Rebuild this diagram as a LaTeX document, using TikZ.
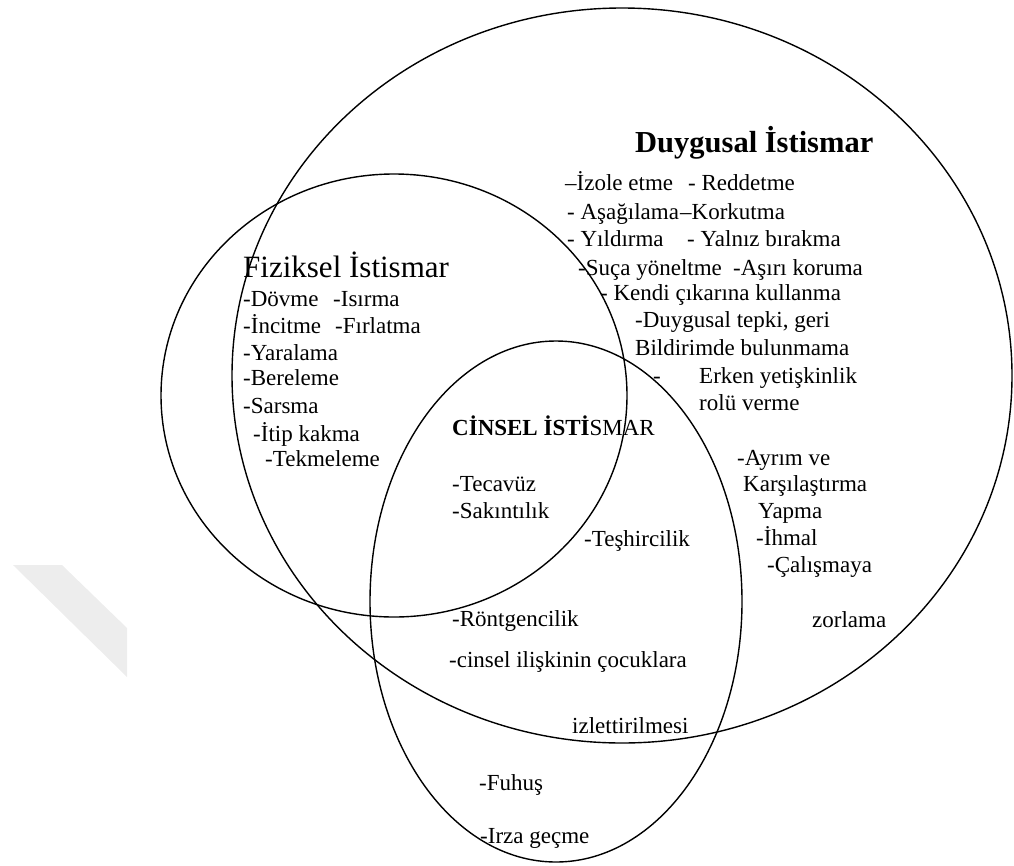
\documentclass[tikz,border=0pt]{standalone}
\usepackage{fontspec}
\setmainfont{Liberation Serif}

\tikzset{
  item/.style={anchor=base west, inner sep=0pt, font=\fontsize{23}{27}\selectfont},
  heading/.style={anchor=base west, inner sep=0pt, font=\fontsize{31}{35}\selectfont},
  venn/.style={line width=1.4pt}
}

\begin{document}
\begin{tikzpicture}[x=1pt, y=-1pt]
\useasboundingbox (0,0) rectangle (1014,865);
\fill[black!7] (13,565) -- (62,565) -- (127,628) -- (127,677) -- cycle;

\draw[venn] (622,375.5) ellipse [x radius=390pt, y radius=367.5pt];
\draw[venn] (394,395.5) ellipse [x radius=233pt, y radius=221.5pt];
\draw[venn] (556,601.5) ellipse [x radius=186pt, y radius=260.5pt];

\node[heading, font=\fontsize{30.5}{35}\selectfont\bfseries] (duy) at (635,152) {Duygusal İstismar};
\node[item] (d1) at (565,190) {–İzole etme};
\node[item] (d1b) at (688,190) {- Reddetme};
\node[item] (d2) at (567,219) {- Aşağılama};
\node[item] (d2b) at (680,219) {–Korkutma};
\node[item] (d3) at (567,246) {- Yıldırma};
\node[item] (d3b) at (687,246) {- Yalnız bırakma};
\node[item] (d4) at (578,275) {-Suça yöneltme};
\node[item] (d4b) at (733,275) {-Aşırı koruma};
\node[item] (d5) at (600,300) {- Kendi çıkarına kullanma};
\node[item] (d6) at (635,327) {-Duygusal tepki, geri};
\node[item] (d7) at (635,355) {Bildirimde bulunmama};
\node[item] (d8) at (653,383) {-};
\node[item] (d8b) at (699,383) {Erken yetişkinlik};
\node[item] (d9) at (699,410) {rolü verme};
\node[item] (d10) at (737,465) {-Ayrım ve};
\node[item] (d11) at (743,491) {Karşılaştırma};
\node[item] (d12) at (758,518) {Yapma};
\node[item] (d13) at (756,545) {-İhmal};
\node[item] (d14) at (767,572) {-Çalışmaya};
\node[item] (d15) at (812,627) {zorlama};

\node[heading] (fiz) at (243,277) {Fiziksel İstismar};
\node[item] (f1) at (243,306) {-Dövme};
\node[item] (f1b) at (333,306) {-Isırma};
\node[item] (f2) at (243,333) {-İncitme};
\node[item] (f2b) at (335,333) {-Fırlatma};
\node[item] (f3) at (243,360) {-Yaralama};
\node[item] (f4) at (243,385) {-Bereleme};
\node[item] (f5) at (243,413) {-Sarsma};
\node[item] (f6) at (253,441) {-İtip kakma};
\node[item] (f7) at (265,466) {-Tekmeleme};

\node[item] (cin) at (452,435) {\textbf{CİNSEL İSTİ}SMAR};
\node[item] (c1) at (452,491) {-Tecavüz};
\node[item] (c2) at (452,518) {-Sakıntılık};
\node[item] (c3) at (584,546) {-Teşhircilik};
\node[item] (c4) at (452,626) {-Röntgencilik};
\node[item] (c5) at (449,667) {-cinsel ilişkinin çocuklara};
\node[item] (c6) at (572,733) {izlettirilmesi};
\node[item] (c7) at (479,790) {-Fuhuş};
\node[item] (c8) at (480,843) {-Irza geçme};
\end{tikzpicture}
\end{document}
